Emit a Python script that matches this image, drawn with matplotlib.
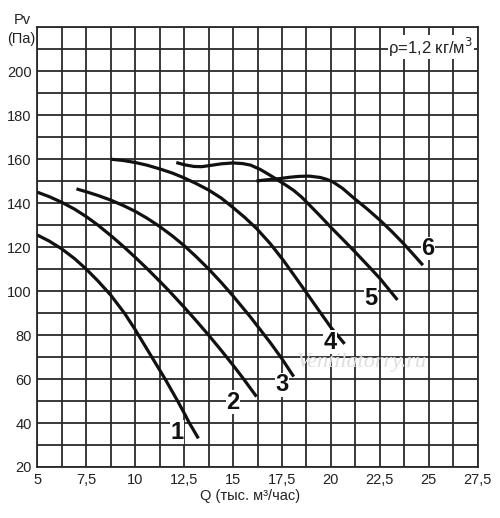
import numpy as np
import matplotlib
matplotlib.use("Agg")
import matplotlib.pyplot as plt
from matplotlib.ticker import MultipleLocator, FuncFormatter

# fan curves, Q in thousand m3/h, Pv in Pa
q1 = [5.0, 5.6, 6.25, 6.9, 7.5, 8.1, 8.75, 9.45, 10.0, 10.85, 11.53, 12.17, 12.5, 12.75, 13.23]
p1 = [125.5, 122.8, 119.2, 114.8, 110, 104.6, 98.2, 90, 82.5, 70, 60, 50, 44.6, 40.3, 33]

q2 = [5.0, 5.6, 6.25, 6.9, 7.5, 8.1, 8.75, 9.4, 10.0, 10.6, 11.25, 11.7, 12.5, 13.1,
      13.75, 14.4, 15.0, 15.5, 15.87, 16.2]
p2 = [145, 143, 140.4, 137.3, 133.9, 130, 125.3, 120.3, 115.4, 110.3, 104.5, 100.4, 92.7,
      86.7, 80, 73, 66.3, 60.5, 56, 52]

q3 = [7.0, 7.5, 8.1, 8.75, 9.4, 10.0, 10.6, 11.25, 11.9, 12.5, 13.1, 13.75, 14.4, 15.0,
      15.9, 16.9, 17.5, 18.1]
p3 = [146.5, 145.2, 143.5, 141.4, 138.9, 136.3, 133.2, 129.4, 125.1, 120.7, 115.8, 110.1,
      103.9, 97.8, 88.1, 76.6, 69.2, 61.1]

q4 = [8.75, 9.4, 10.0, 10.6, 11.25, 11.9, 12.5, 13.1, 13.75, 14.4, 15.0, 15.6, 16.2,
      16.9, 17.57, 18.15, 18.77, 19.4, 20.0, 20.7]
p4 = [160, 159.4, 158.5, 157.3, 155.6, 153.7, 151.5, 149, 146, 142.3, 138, 133.5, 128.5,
      121.6, 114, 106.8, 99, 91, 83.5, 76]

q5 = [12.1, 12.5, 13.0, 13.4, 13.8, 14.4, 15.0, 15.5, 15.9, 16.4, 16.8, 17.2, 17.7,
      18.1, 18.5, 18.9, 19.45, 20.0, 20.6, 21.15, 21.8, 22.5, 23.4]
p5 = [158.5, 157.5, 156.7, 156.6, 157.1, 157.9, 158.3, 158, 157.3, 155.3, 153.2, 151,
      148.2, 145.8, 142.8, 139.2, 134.2, 129, 123.6, 118.6, 112.5, 105.8, 96]

q6 = [16.2, 16.8, 17.4, 17.9, 18.4, 18.9, 19.45, 19.8, 20.1, 20.6, 21.2, 21.85, 22.5,
      23.1, 23.7, 24.2, 24.7]
p6 = [150.1, 150.7, 151.2, 151.8, 152.2, 152.3, 151.7, 150.8, 149.7, 146.7, 142.1,
      137.4, 132.3, 127.2, 121.7, 116.8, 111.8]

curves = [(q1, p1), (q2, p2), (q3, p3), (q4, p4), (q5, p5), (q6, p6)]
curve_names = ["1", "2", "3", "4", "5", "6"]
label_q = [12.13, 15.0, 17.5, 19.95, 22.05, 24.97]
label_p = [35.9, 49.5, 57.3, 76.8, 96.8, 119.5]

plt.rcParams['font.family'] = ['Liberation Sans', 'DejaVu Sans']

fig = plt.figure(figsize=(5.0, 5.18), dpi=100)
ax = fig.add_axes([0.0746, 0.0985, 0.8808, 0.8488])

ax.set_xlim(5, 27.5)
ax.set_ylim(20, 220)
ax.xaxis.set_major_locator(MultipleLocator(2.5))
ax.xaxis.set_minor_locator(MultipleLocator(1.25))
ax.yaxis.set_minor_locator(MultipleLocator(10))
ax.set_yticks([20, 40, 60, 80, 100, 120, 140, 160, 180, 200])
ax.xaxis.set_major_formatter(FuncFormatter(lambda v, p: ("%g" % v).replace(".", ",")))

grid_c = "#2a2a2a"
ax.grid(which="both", color=grid_c, linewidth=1.3)
ax.set_axisbelow(True)
for s in ax.spines.values():
    s.set_color(grid_c)
    s.set_linewidth(1.3)
ax.tick_params(which="both", length=0, labelsize=10.5, colors="#222222", pad=4)

for (q, p) in curves:
    ax.plot(q, p, color="#111111", linewidth=2.3, solid_capstyle="butt",
            solid_joinstyle="round", zorder=3)

for name, x, y in zip(curve_names, label_q, label_p):
    ax.text(x, y, name, ha="center", va="center", fontsize=17, fontweight="bold",
            color="#111111", zorder=4,
            bbox=dict(facecolor="white", edgecolor="none", pad=0.2))

# faint watermark
ax.text(21.6, 67.5, "Ventilatorry.ru", ha="center", va="center", fontsize=16,
        style="italic", family="Liberation Serif", color="#dedede", zorder=2.5)

ax.text(0.99, 0.955, "ρ=1,2 кг/м$^3$", transform=ax.transAxes, ha="right", va="center",
        fontsize=12, color="#222222", zorder=4,
        bbox=dict(facecolor="white", edgecolor="none", pad=0.3))

fig.text(22 / 500, 1 - 20 / 518, "Pv", ha="center", va="center", fontsize=10.5, color="#222222")
fig.text(21 / 500, 1 - 39 / 518, "(Па)", ha="center", va="center", fontsize=10.5, color="#222222")
fig.text(250 / 500, 1 - 496 / 518, "Q (тыс. м³/час)", ha="center", va="center", fontsize=10.5,
         color="#222222")

fig.savefig("out.png", dpi=100)
